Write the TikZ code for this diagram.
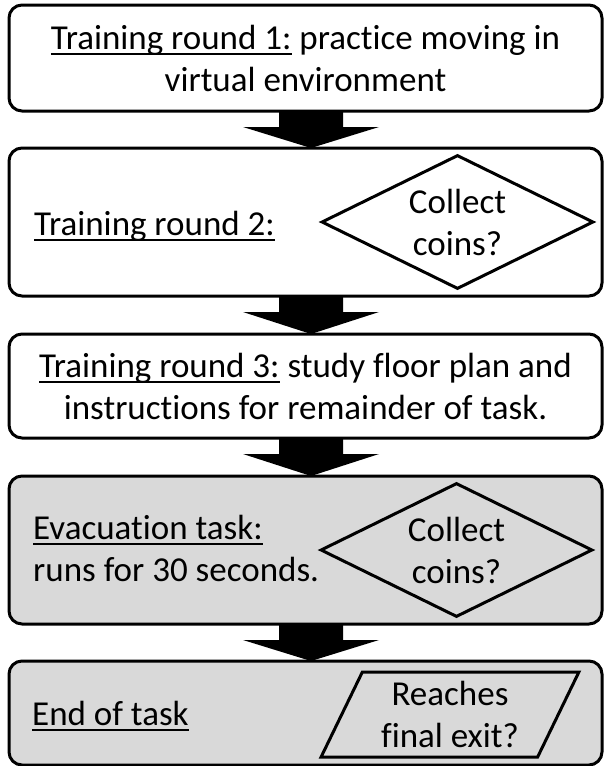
\documentclass[tikz,border=0pt]{standalone}
\usepackage{fontspec}
\setmainfont{Carlito}[Ligatures=NoCommon]
\usepackage{tikz}
\usetikzlibrary{positioning, shapes.geometric, calc}

\newcommand\ulabel[1]{\setbox0=\hbox{#1}\rlap{\rule[-6pt]{\wd0}{2pt}}\box0\relax}

\begin{document}
\begin{tikzpicture}[
    x=1pt, y=-1pt,
    node distance=37pt,
    font=\fontsize{35}{42}\selectfont,
    stage/.style={rectangle, draw, line width=3pt, rounded corners=13pt, minimum width=593pt, outer sep=0pt, inner sep=0pt, align=center},
    trainstage/.style={stage, fill=white},
    taskstage/.style={stage, fill=gray!30},
    choice/.style={diamond, draw, line width=3pt, aspect=2, minimum width=272pt, minimum height=134pt, inner sep=0pt, align=center},
    exitcheck/.style={trapezium, draw, line width=3pt, trapezium left angle=64, trapezium right angle=116, trapezium stretches=true, minimum width=258pt, minimum height=85pt, inner sep=0pt, align=center},
    lefttext/.style={inner sep=0pt, align=left},
    blockarrow/.style={fill=black}
]
\useasboundingbox (0,0) rectangle (604,766);

% Training rounds
\node[trainstage, minimum height=106pt] (round1) at (305.5,58) {\ulabel{Training round 1:} practice moving in\\virtual environment};
\node[trainstage, minimum height=148pt, below=of round1] (round2) {};
\node[lefttext, anchor=base west] (round2txt) at ($(round2.west)+(25,13)$) {\ulabel{Training round 2:}};
\node[choice] (coins1) at ($(round2.center)+(152,0)$) {Collect\\coins?};
\node[trainstage, minimum height=104pt, below=38pt of round2] (round3) {\ulabel{Training round 3:} study floor plan and\\instructions for remainder of task.};

% Task itself
\node[taskstage, minimum height=148pt, below=38pt of round3] (evac) {};
\node[lefttext, anchor=west] (evactxt) at ($(evac.west)+(24,-2)$) {\ulabel{Evacuation task:}\\runs for 30 seconds.};
\node[choice] (coins2) at ($(evac.center)+(151,0)$) {Collect\\coins?};
\node[taskstage, minimum height=104pt, below=of evac] (finish) {};
\node[lefttext, anchor=base west] (finishtxt) at ($(finish.west)+(23,12)$) {\ulabel{End of task}};
\node[exitcheck] (exit) at ($(finish.center)+(144.5,1.5)$) {Reaches\\final exit?};

% Block arrows between stages
\foreach \from/\to in {round1/round2, round2/round3, round3/evac, evac/finish}
    \fill[blockarrow] ($(\from.south)+(-26.5,0)$) -- ++(0,16) -- ++(-36,0) -- ($(\to.north)+(5.5,0)$) -- ($(\from.south)+(73.5,16)$) -- ++(-36,0) -- ++(0,-16) -- cycle;

\end{tikzpicture}
\end{document}
